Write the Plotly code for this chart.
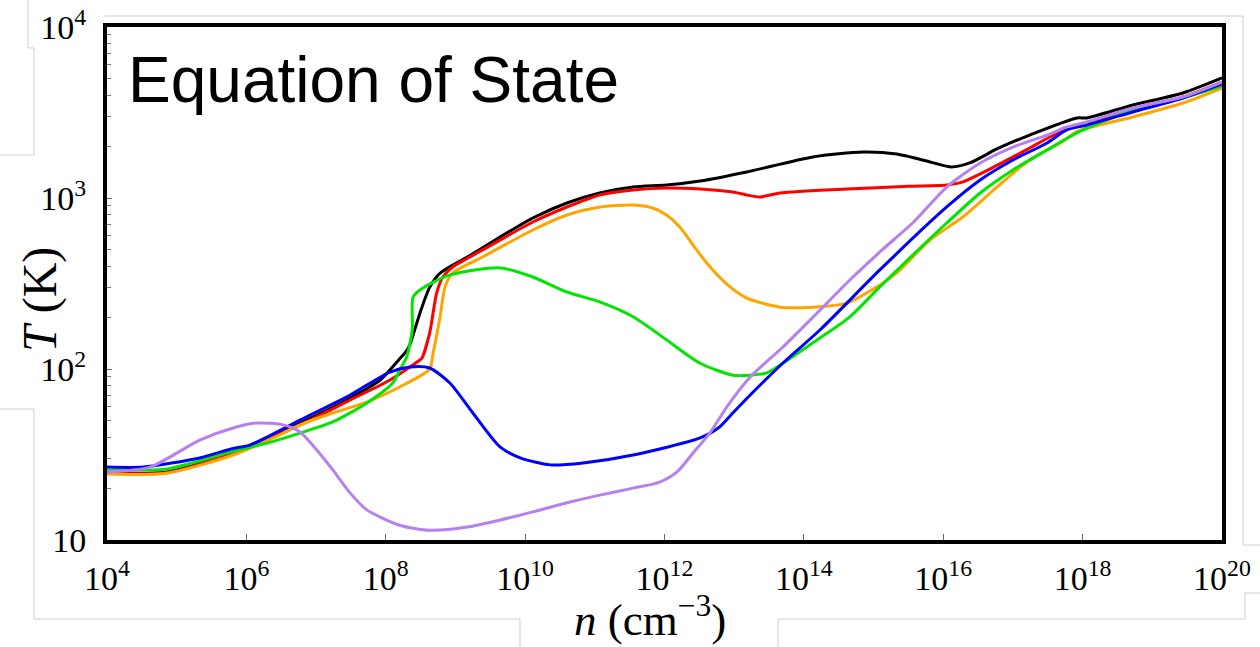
import plotly.graph_objects as go

# ---------------- data (log10 n [cm^-3], T [K]) ----------------
black_logn = [4.0, 4.86, 5.81, 6.77, 7.49, 7.92, 8.16, 8.30, 8.35, 8.49, 8.63, 8.78, 9.17, 9.64,
              10.11, 10.60, 11.07, 11.55, 12.03, 12.51, 13.18, 14.13, 14.85, 15.33, 15.81, 16.12,
              16.38, 16.77, 17.24, 17.92, 18.06, 18.72, 19.44, 20.0]
black_T = [24.6, 25.0, 32.5, 48.3, 67.6, 86.2, 110.0, 128.0, 140.0, 212.0, 300.0, 364.0, 451.6, 591.0,
           764.0, 935.0, 1070.0, 1159.0, 1191.0, 1257.0, 1420.0, 1738.0, 1857.0, 1807.0, 1625.0, 1518.0,
           1603.0, 1935.0, 2334.0, 2938.0, 2938.0, 3499.0, 4113.0, 5035.0]

red_logn = [4.0, 4.86, 5.81, 6.77, 7.49, 8.06, 8.49, 8.52, 8.63, 8.73, 8.82, 8.96, 9.39, 10.11,
            10.60, 11.07, 11.55, 12.03, 12.51, 12.98, 13.18, 13.37, 13.66, 14.62, 15.50, 16.05,
            16.28, 16.77, 17.24, 17.53, 17.82, 18.15, 18.72, 19.44, 20.0]
red_T = [24.6, 24.8, 32.3, 47.1, 65.9, 86.2, 112.9, 115.9, 162.0, 278.0, 345.0, 395.0, 497.0, 724.0,
         886.0, 1042.0, 1114.0, 1144.0, 1129.0, 1084.0, 1042.0, 1014.0, 1070.0, 1129.0, 1170.0, 1191.0,
         1242.0, 1550.0, 1960.0, 2274.0, 2565.0, 2782.0, 3300.0, 3900.0, 4764.0]

orange_logn = [4.0, 4.86, 5.81, 6.53, 6.77, 7.24, 7.73, 8.20, 8.63, 8.68, 8.78, 8.85, 8.96, 9.39,
               10.11, 10.60, 11.07, 11.55, 11.83, 12.03, 12.22, 12.46, 12.69, 12.94, 13.18, 13.66,
               14.13, 14.62, 14.90, 15.33, 15.81, 16.28, 16.77, 17.24, 17.72, 17.92, 18.72, 19.44, 20.0]
orange_T = [24.3, 24.6, 31.4, 42.2, 47.1, 55.3, 64.1, 78.5, 100.0, 124.0, 202.0, 302.0, 364.0, 452.0,
            650.0, 795.0, 886.0, 910.0, 874.0, 795.0, 676.0, 497.0, 380.0, 302.0, 260.0, 230.0,
            230.0, 243.0, 278.0, 364.0, 568.0, 774.0, 1159.0, 1667.0, 2150.0, 2450.0, 2976.0, 3594.0, 4394.0]

green_logn = [4.0, 4.86, 5.81, 6.30, 6.77, 7.24, 7.73, 8.10, 8.20, 8.30, 8.38, 8.39, 8.49, 8.92,
              9.64, 10.11, 10.60, 11.07, 11.55, 12.03, 12.51, 12.98, 13.23, 13.47, 13.70, 14.19,
              14.66, 15.09, 16.05, 16.53, 17.00, 17.49, 17.96, 18.72, 19.44, 20.0]
green_T = [25.7, 26.0, 33.0, 36.9, 42.2, 49.0, 63.3, 82.8, 98.6, 117.5, 169.0, 262.0, 290.0, 355.0,
           390.0, 345.0, 282.0, 247.0, 202.0, 148.0, 108.0, 92.0, 92.0, 95.0, 108.0, 148.0,
           202.0, 302.0, 714.0, 1070.0, 1459.0, 1909.0, 2450.0, 3271.0, 3844.0, 4515.0]

blue_logn = [4.0, 4.52, 5.33, 5.81, 6.05, 6.77, 7.49, 8.06, 8.35, 8.63, 8.92, 9.25, 9.64, 9.93,
             10.36, 10.83, 11.55, 12.51, 12.79, 12.98, 13.23, 13.70, 14.23, 15.09, 16.05, 16.53,
             17.00, 17.49, 17.77, 18.06, 18.72, 19.44, 20.0]
blue_T = [26.7, 26.7, 30.2, 34.3, 35.9, 50.3, 70.5, 96.0, 102.8, 101.4, 82.8, 55.3, 35.0, 30.2,
          27.5, 28.2, 31.4, 39.5, 45.8, 55.3, 70.5, 108.4, 169.0, 379.5, 886.0, 1274.0,
          1667.0, 2098.0, 2500.0, 2673.0, 3184.0, 3844.0, 4641.0]

purple_logn = [4.0, 4.62, 5.33, 5.81, 6.15, 6.53, 6.77, 7.01, 7.24, 7.49, 7.73, 8.20, 8.63, 9.17,
               9.64, 10.11, 10.60, 11.07, 11.55, 11.93, 12.18, 12.41, 12.65, 12.90, 13.23, 13.70,
               14.19, 14.66, 15.13, 15.56, 16.05, 16.53, 17.00, 17.49, 17.77, 18.06, 18.72, 19.44, 20.0]
purple_T = [25.0, 26.7, 38.4, 45.2, 48.3, 47.1, 42.8, 33.6, 25.7, 18.8, 15.0, 12.2, 11.4, 11.9,
            13.1, 14.6, 16.5, 18.3, 20.1, 21.8, 25.0, 32.3, 42.2, 60.5, 89.8, 134.5,
            212.5, 331.5, 500.0, 714.0, 1159.0, 1603.0, 1987.0, 2334.0, 2600.0, 2782.0, 3357.0, 3899.0, 4764.0]

x_tick_exponents = [4, 6, 8, 10, 12, 14, 16, 18, 20]
y_tick_exponents = [1, 2, 3, 4]
title_text = "Equation of State"
x_title = "<i>n</i> (cm<sup>−3</sup>)"
y_title = "<i>T</i> (K)"

series = [
    (black_logn, black_T, "#000000"),
    (red_logn, red_T, "#ff0000"),
    (orange_logn, orange_T, "#ffa500"),
    (green_logn, green_T, "#00e600"),
    (blue_logn, blue_T, "#0000ff"),
    (purple_logn, purple_T, "#b580f0"),
]

# ---------------- figure ----------------
W, H = 1260, 647
ML, MR, MT, MB = 107, 38, 27, 107
PW, PH = W - ML - MR, H - MT - MB

fig = go.Figure()
for logn, T, col in series:
    fig.add_trace(go.Scatter(
        x=[10.0 ** v for v in logn], y=T, mode="lines",
        line=dict(color=col, width=3, shape="spline", smoothing=0.7),
        showlegend=False, hoverinfo="skip"))

tick_font = dict(family="Liberation Serif", size=34, color="black")

xt_vals = [10.0 ** e for e in x_tick_exponents]
xt_text = [f"10<sup>{e}</sup>" for e in x_tick_exponents]

yt_vals = [10.0 ** e for e in y_tick_exponents]
yt_text = ["10" if e == 1 else f"10<sup>{e}</sup>" for e in y_tick_exponents]
y_minor = [m * 10.0 ** e for e in y_tick_exponents[:-1] for m in range(2, 10)]

fig.update_xaxes(type="log", range=[4, 20], tickmode="array", tickvals=xt_vals, ticktext=xt_text,
                 ticks="inside", ticklen=6, tickwidth=1, tickcolor="#666",
                 showline=True, linewidth=4, linecolor="black", mirror=True,
                 showgrid=False, zeroline=False, tickfont=tick_font, ticklabelstandoff=5)
fig.update_yaxes(type="log", range=[1, 4], tickmode="array", tickvals=yt_vals, ticktext=yt_text,
                 ticks="inside", ticklen=5, tickwidth=1, tickcolor="#666",
                 minor=dict(tickmode="array", tickvals=y_minor, ticks="inside", ticklen=4,
                            tickwidth=1, tickcolor="#777", showgrid=False),
                 showline=True, linewidth=4, linecolor="black", mirror=True,
                 showgrid=False, zeroline=False, tickfont=tick_font, ticklabelstandoff=10)


def px_to_paper(px, py):
    return (px - ML) / PW, (H - MB - py) / PH


annotations = []
tx, ty = px_to_paper(126, 80)
annotations.append(dict(text=title_text, x=tx, y=ty, xref="paper", yref="paper",
                        xanchor="left", yanchor="middle", showarrow=False,
                        font=dict(family="Liberation Sans", size=64, color="black")))
ax_, ay_ = px_to_paper(650, 616)
annotations.append(dict(text=x_title, x=ax_, y=ay_, xref="paper", yref="paper",
                        xanchor="center", yanchor="middle", showarrow=False,
                        font=dict(family="Liberation Serif", size=45, color="black")))
bx_, by_ = px_to_paper(40, 300)
annotations.append(dict(text=y_title, x=bx_, y=by_, xref="paper", yref="paper",
                        xanchor="center", yanchor="middle", showarrow=False, textangle=-90,
                        font=dict(family="Liberation Serif", size=48, color="black")))

# faint frame lines (decorative, in pixel space)
frame_segments = [
    ((28, 0), (28, 48)), ((28, 48), (34, 48)), ((34, 48), (34, 155)), ((0, 155), (34, 155)),
    ((105, 16), (1243, 16)), ((1243, 16), (1243, 545)), ((1243, 545), (1260, 545)),
    ((0, 409), (34, 409)), ((34, 409), (34, 619)), ((34, 619), (520, 619)), ((520, 619), (520, 647)),
    ((778, 647), (778, 619)), ((778, 619), (1245, 619)), ((1245, 619), (1245, 593)), ((1245, 593), (1260, 593)),
]
shapes = []
for (x0, y0), (x1, y1) in frame_segments:
    a0, b0 = px_to_paper(x0, y0)
    a1, b1 = px_to_paper(x1, y1)
    shapes.append(dict(type="line", xref="paper", yref="paper", x0=a0, y0=b0, x1=a1, y1=b1,
                       line=dict(color="#cfcfcf", width=1), layer="below"))

fig.update_layout(width=W, height=H, margin=dict(l=ML, r=MR, t=MT, b=MB, autoexpand=False),
                  plot_bgcolor="white", paper_bgcolor="white",
                  annotations=annotations, shapes=shapes, showlegend=False)

fig.write_html("out.html", config={"displayModeBar": False, "staticPlot": True},
               post_script="document.body.style.margin='0';document.body.style.overflow='hidden';")
